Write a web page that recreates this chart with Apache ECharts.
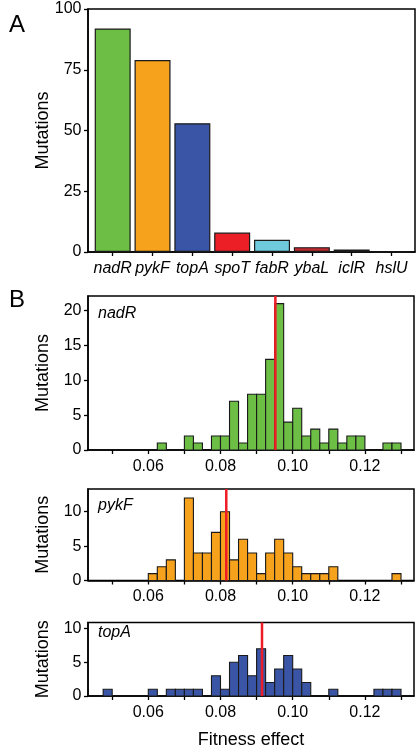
<!DOCTYPE html>
<html><head><meta charset="utf-8">
<script src="https://cdn.jsdelivr.net/npm/echarts@6/dist/echarts.min.js"></script>
<style>html,body{margin:0;padding:0;background:#fff}#c{width:420px;height:750px}</style>
</head><body><div id="c"></div>
<script>
// ---- Panel A data ----
const genes = ['nadR','pykF','topA','spoT','fabR','ybaL','iclR','hslU'];
const geneCounts = [92,79,53,8,5,2,1,0];
const geneColors = ['#6cbe45','#f6a21d','#3a55a5','#ec1f27','#6fcbdc','#bf2a2e','#8b5ca8','#999999'];
const countTicks = [0,25,50,75,100];

// ---- Panel B data: [bin left edge, count] ----
const binWidth = 0.0025;
const nadRBins = [[0.0625,1],[0.07,2],[0.0725,1],[0.0775,2],[0.08,2],[0.0825,7],[0.085,1],[0.0875,8],[0.09,8],[0.0925,13],[0.095,21],[0.0975,4],[0.1,6],[0.1025,2],[0.105,3],[0.1075,1],[0.11,3],[0.1125,1],[0.115,2],[0.1175,2],[0.125,1],[0.1275,1]];
const pykFBins = [[0.06,1],[0.0625,2],[0.065,3],[0.07,12],[0.0725,4],[0.075,4],[0.0775,7],[0.08,10],[0.0825,3],[0.085,6],[0.0875,4],[0.09,1],[0.0925,4],[0.095,6],[0.0975,4],[0.1,2],[0.1025,1],[0.105,1],[0.1075,1],[0.11,2],[0.1275,1]];
const topABins = [[0.0475,1],[0.06,1],[0.065,1],[0.0675,1],[0.07,1],[0.0725,1],[0.0775,3],[0.08,1],[0.0825,5],[0.085,6],[0.0875,3],[0.09,7],[0.0925,2],[0.095,4],[0.0975,6],[0.1,4],[0.1025,2],[0.11,1],[0.1225,1],[0.125,1],[0.1275,1]];
const meanNadR = 0.0952, meanPykF = 0.0816, meanTopA = 0.0915;
const fitnessRange = [0.0433, 0.1336];
const fitnessTicks = [0.05,0.06,0.07,0.08,0.09,0.10,0.11,0.12,0.13];
const fitnessLabels = [0.06,0.08,0.10,0.12];
const histYMax = [22.1, 13.3, 10.9];
const histYTicks = [[0,5,10,15,20],[0,5,10],[0,5,10]];

const FONT = "'Liberation Sans', Arial, Helvetica, sans-serif";
const chart = echarts.init(document.getElementById('c'), null, {renderer:'canvas'});

const gridBox = {show:true, borderColor:'#000', borderWidth:1.5, backgroundColor:'#fff'};
const grids = [
  Object.assign({left:88, top:9, width:327, height:243}, gridBox),
  Object.assign({left:88, top:296, width:326, height:154}, gridBox),
  Object.assign({left:88, top:489, width:326, height:91.5}, gridBox),
  Object.assign({left:88, top:622.5, width:326, height:74}, gridBox)
];

const axisLineStyle = {show:true, onZero:false, lineStyle:{color:'#000', width:1.5}};
const tickStyle = {show:true, inside:false, length:4, lineStyle:{color:'#000', width:1.3}};
const labelBase = {color:'#000', fontFamily:FONT, fontSize:16};
const nameStyle = {color:'#000', fontFamily:FONT, fontSize:18};
const catIdx = genes.map((g,i)=>i);

const xAxes = [{
  gridIndex:0, type:'value', min:-0.62, max:7.59,
  axisLine:axisLineStyle,
  axisTick:Object.assign({customValues:catIdx}, tickStyle),
  axisLabel:Object.assign({customValues:catIdx, fontStyle:'italic', margin:9, formatter:v=>genes[Math.round(v)]}, labelBase),
  splitLine:{show:false}
}];
const yAxes = [{
  gridIndex:0, type:'value', min:0, max:100, interval:25,
  name:'Mutations', nameLocation:'middle', nameGap:36, nameMoveOverlap:false, nameTextStyle:nameStyle,
  axisLine:axisLineStyle, axisTick:tickStyle,
  axisLabel:Object.assign({margin:6.5}, labelBase),
  splitLine:{show:false}
}];
for (let i = 0; i < 3; i++) {
  const xa = {
    gridIndex:i+1, type:'value', min:fitnessRange[0], max:fitnessRange[1],
    axisLine:axisLineStyle,
    axisTick:Object.assign({customValues:fitnessTicks}, tickStyle),
    axisLabel:Object.assign({customValues:fitnessLabels, margin:8.5, formatter:v=>v.toFixed(2)}, labelBase),
    splitLine:{show:false}
  };
  if (i === 2) {
    xa.name = 'Fitness effect'; xa.nameLocation = 'middle'; xa.nameGap = 35; xa.nameMoveOverlap = false;
    xa.nameTextStyle = nameStyle;
  }
  xAxes.push(xa);
  yAxes.push({
    gridIndex:i+1, type:'value', min:0, max:histYMax[i],
    name:'Mutations', nameLocation:'middle', nameGap:36, nameMoveOverlap:false, nameTextStyle:nameStyle,
    axisLine:axisLineStyle,
    axisTick:Object.assign({customValues:histYTicks[i]}, tickStyle),
    axisLabel:Object.assign({customValues:histYTicks[i], margin:6.5}, labelBase),
    splitLine:{show:false}
  });
}

function binRenderer(color) {
  return function (params, api) {
    const x0 = api.value(0), c = api.value(1);
    const p0 = api.coord([x0, c]);
    const p1 = api.coord([x0 + binWidth, 0]);
    return {type:'rect', shape:{x:p0[0], y:p0[1], width:p1[0]-p0[0], height:p1[1]-p0[1]},
      style:{fill:color, stroke:'#1a1a1a', lineWidth:1.1}};
  };
}
function meanLine(idx, m, ymax) {
  return {type:'line', xAxisIndex:idx, yAxisIndex:idx, data:[[m,0],[m,ymax]], silent:true, z:5,
    symbol:'none', lineStyle:{color:'#ee1c24', width:2.5, type:'solid'}};
}

const series = [
  {type:'bar', xAxisIndex:0, yAxisIndex:0, barWidth:36,
   data:geneCounts.map((v,i)=>({value:[i,v], itemStyle:{color:geneColors[i]}})),
   itemStyle:{borderColor:'#1a1a1a', borderWidth:1.2}},
  {type:'custom', xAxisIndex:1, yAxisIndex:1, data:nadRBins, encode:{x:0,y:1}, renderItem:binRenderer('#6cbe45')},
  {type:'custom', xAxisIndex:2, yAxisIndex:2, data:pykFBins, encode:{x:0,y:1}, renderItem:binRenderer('#f6a21d')},
  {type:'custom', xAxisIndex:3, yAxisIndex:3, data:topABins, encode:{x:0,y:1}, renderItem:binRenderer('#3a55a5')},
  meanLine(1, meanNadR, histYMax[0]), meanLine(2, meanPykF, histYMax[1]), meanLine(3, meanTopA, histYMax[2])
];

const txt = (t, x, y, size, italic) => ({type:'text', left:x, top:y, z:10,
  style:{text:t, fill:'#000', font:(italic?'italic ':'') + size + 'px ' + FONT}});

chart.setOption({
  animation:false,
  grid:grids, xAxis:xAxes, yAxis:yAxes, series:series,
  graphic:[
    txt('A', 9, 13, 24, false),
    txt('B', 9, 288, 24, false),
    txt('nadR', 98, 306, 16, true),
    txt('pykF', 98, 498, 16, true),
    txt('topA', 98, 625, 16, true)
  ]
});
</script></body></html>
